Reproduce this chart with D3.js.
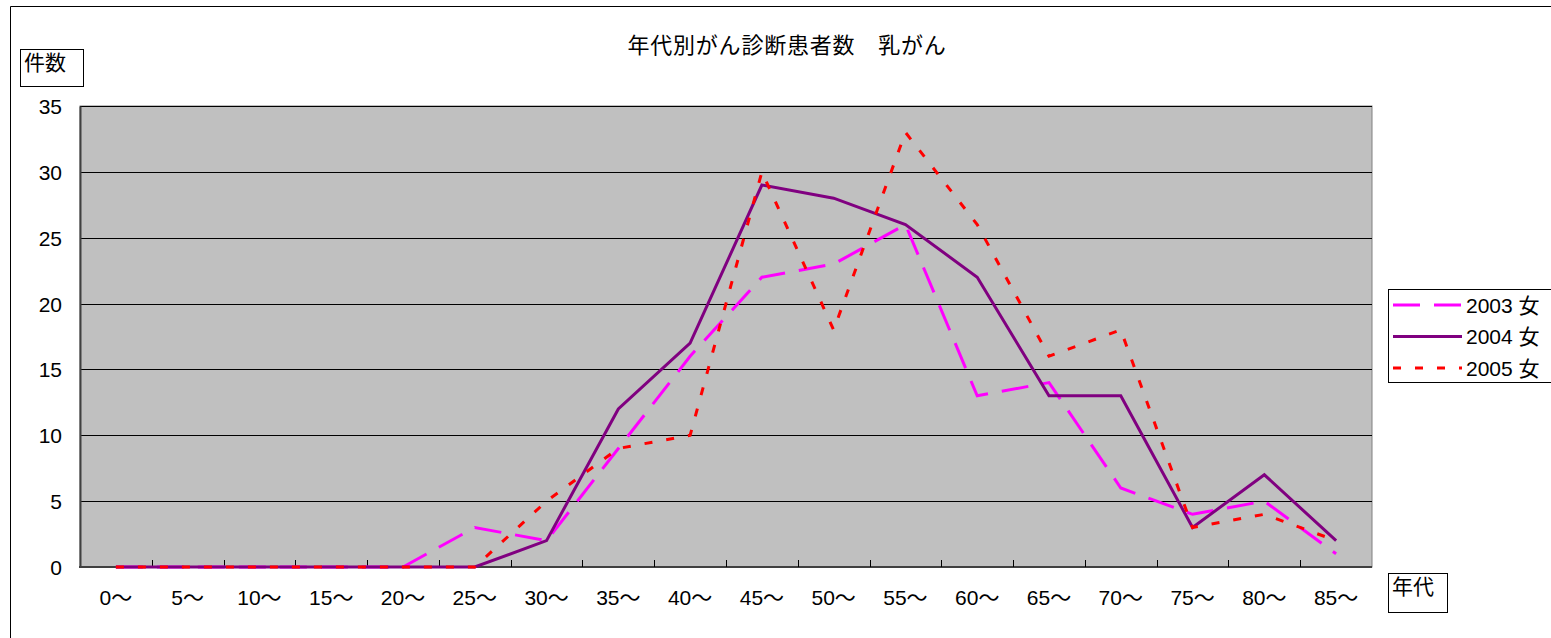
<!DOCTYPE html>
<meta charset="utf-8">
<title>年代別がん診断患者数 乳がん</title>
<style>
body { margin: 0; background: #fff; }
svg text { font-family: "Liberation Sans", "Noto Sans CJK JP", sans-serif; fill: #000; }
</style>
<svg width="1551" height="638"></svg>
<script src="https://d3js.org/d3.v7.min.js"></script>
<script>
const categories = ['0～','5～','10～','15～','20～','25～','30～','35～','40～','45～','50～','55～','60～','65～','70～','75～','80～','85～'];
const y2003 = [0,0,0,0,0,3,2,9,16,22,23,26,13,14,6,4,5,1];
const y2004 = [0,0,0,0,0,0,2,12,17,29,28,26,22,13,13,3,7,2];
const y2005 = [0,0,0,0,0,0,5,9,10,30,18,33,26,16,18,3,4,2];
const yTicks = [0,5,10,15,20,25,30,35];
const seriesNames = ['2003 女','2004 女','2005 女'];

const series = [
  { name: seriesNames[0], values: y2003, color: '#ff00ff', dash: '27,14' },
  { name: seriesNames[1], values: y2004, color: '#800080', dash: null },
  { name: seriesNames[2], values: y2005, color: '#ff0000', dash: '8,14' }
];

const svg = d3.select('svg');
const plot = { left: 80, top: 106, right: 1372, bottom: 567 };

// outer chart border
svg.append('path').attr('d', 'M10.5,640V6.5H1560')
  .attr('fill', 'none').attr('stroke', '#000').attr('stroke-width', 1);

const x = d3.scaleBand().domain(categories).range([plot.left, plot.right]);
const y = d3.scaleLinear().domain([0, 35]).range([plot.bottom, plot.top]);

svg.append('rect')
  .attr('x', plot.left).attr('y', plot.top)
  .attr('width', plot.right - plot.left).attr('height', plot.bottom - plot.top)
  .attr('fill', '#c0c0c0').attr('stroke', '#808080').attr('stroke-width', 1);

// gridlines
svg.append('g').selectAll('line')
  .data(yTicks.filter(d => d > 0))
  .enter().append('line')
  .attr('x1', plot.left).attr('x2', plot.right)
  .attr('y1', d => Math.round(y(d)) + 0.5).attr('y2', d => Math.round(y(d)) + 0.5)
  .attr('stroke', '#000').attr('stroke-width', 1);

// y axis
const yAxis = svg.append('g').attr('transform', `translate(${plot.left},0)`)
  .call(d3.axisLeft(y).tickValues(yTicks).tickSize(0).tickPadding(18));
yAxis.attr('font-family', null);
yAxis.select('.domain').attr('stroke', '#404040').attr('stroke-width', 2);
yAxis.selectAll('text').style('font-size', '21px').attr('dy', '0.36em');

// x axis (ticks at category boundaries, pointing inward)
const xg = svg.append('g').attr('transform', `translate(0,${plot.bottom})`);
xg.append('line').attr('x1', plot.left - 1).attr('x2', plot.right)
  .attr('stroke', '#404040').attr('stroke-width', 2);
xg.selectAll('line.tick')
  .data(categories.slice(1))
  .enter().append('line').attr('class', 'tick')
  .attr('x1', d => Math.round(x(d)) + 0.5).attr('x2', d => Math.round(x(d)) + 0.5)
  .attr('y1', 0).attr('y2', -7)
  .attr('stroke', '#000');
xg.selectAll('text')
  .data(categories)
  .enter().append('text')
  .attr('x', d => x(d) + x.bandwidth() / 2)
  .attr('y', 38)
  .attr('text-anchor', 'middle')
  .style('font-size', '21px')
  .text(d => d);

// lines
const line = d3.line()
  .x((d, i) => x(categories[i]) + x.bandwidth() / 2)
  .y(d => y(d));
series.forEach(s => {
  svg.append('path')
    .datum(s.values)
    .attr('d', line)
    .attr('fill', 'none')
    .attr('stroke', s.color)
    .attr('stroke-width', 3)
    .attr('stroke-dasharray', s.dash);
});

// title
svg.append('text').attr('x', 787).attr('y', 53)
  .attr('text-anchor', 'middle').style('font-size', '22px')
  .style('letter-spacing', '0.8px')
  .text('年代別がん診断患者数\u3000乳がん');

// axis title boxes
function labelBox(bx, by, bw, bh, label) {
  svg.append('rect').attr('x', bx + 0.5).attr('y', by + 0.5)
    .attr('width', bw).attr('height', bh)
    .attr('fill', '#fff').attr('stroke', '#000');
  svg.append('text').attr('x', bx + 4).attr('y', by + 21)
    .style('font-size', '21px').text(label);
}
labelBox(20, 49, 63, 37, '件数');
labelBox(1388, 573, 59, 39, '年代');

// legend
const lg = svg.append('g');
lg.append('rect').attr('x', 1388.5).attr('y', 289.5)
  .attr('width', 170).attr('height', 93)
  .attr('fill', '#fff').attr('stroke', '#000');
series.forEach((s, i) => {
  const ly = 305 + i * 31.5;
  lg.append('line').attr('x1', 1393).attr('x2', 1462)
    .attr('y1', ly).attr('y2', ly)
    .attr('stroke', s.color).attr('stroke-width', 3)
    .attr('stroke-dasharray', s.dash);
  lg.append('text').attr('x', 1466).attr('y', ly).attr('dy', '0.36em')
    .style('font-size', '21px').text(s.name);
});
</script>
